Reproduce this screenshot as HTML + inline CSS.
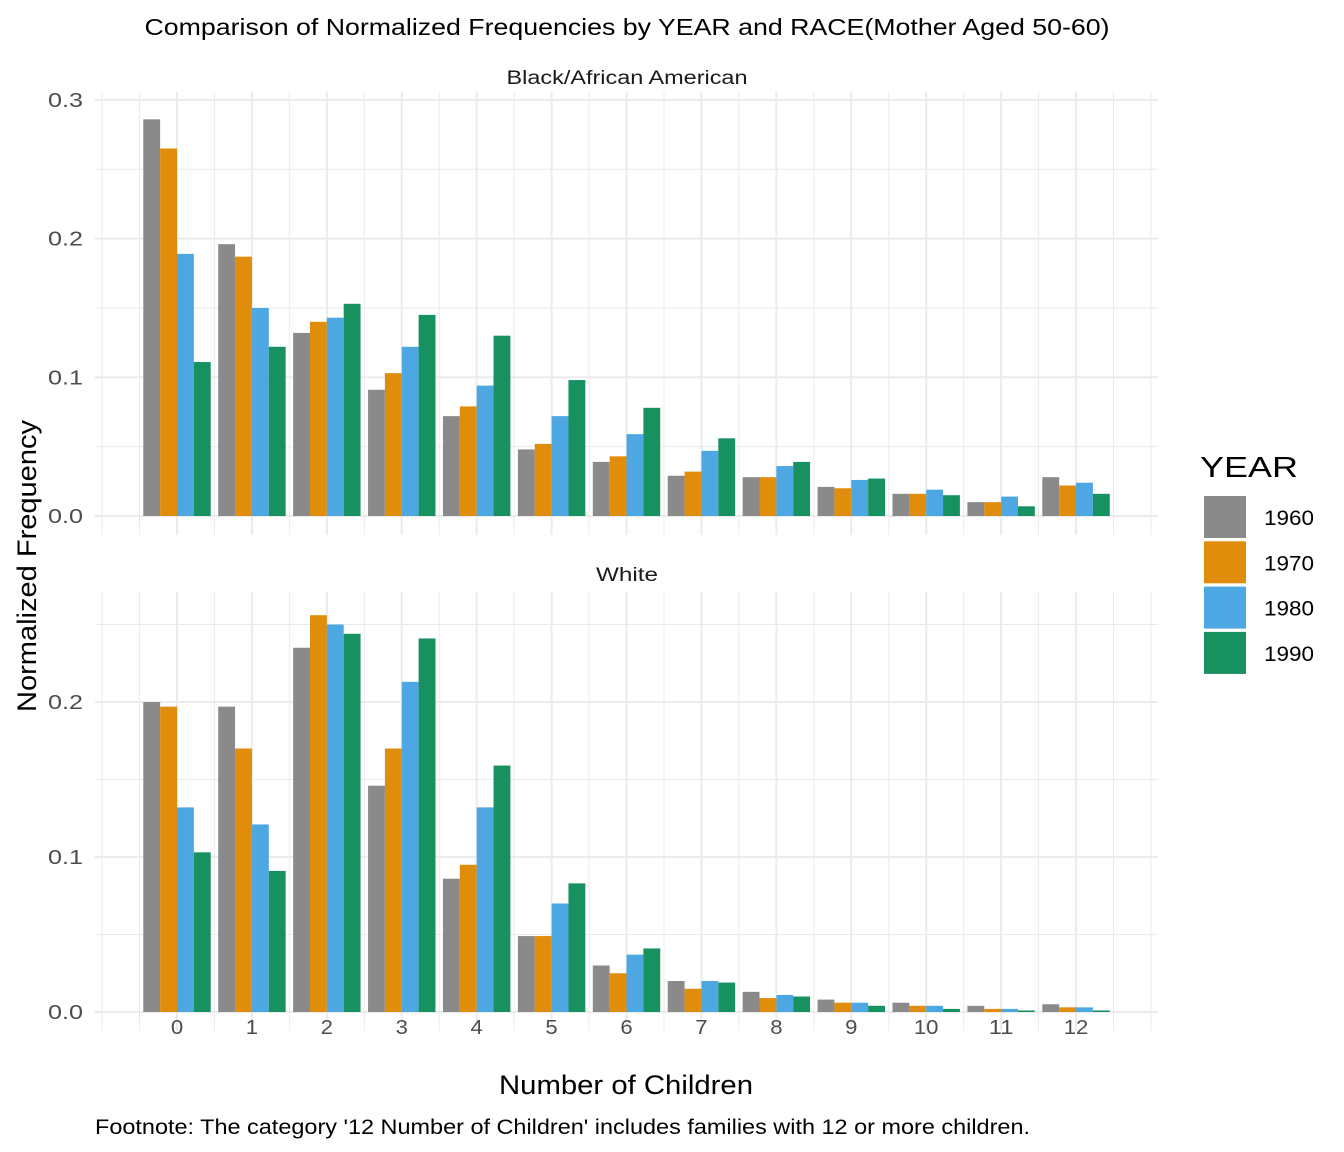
<!DOCTYPE html>
<html><head><meta charset="utf-8"><style>
html,body{margin:0;padding:0;background:#fff;}
svg{display:block;font-family:"Liberation Sans",Arial,sans-serif;}
</style></head><body>
<svg id="chart" width="1344" height="1152" viewBox="0 0 1344 1152">
<text x="627" y="35" text-anchor="middle" font-size="23" textLength="965" lengthAdjust="spacingAndGlyphs" fill="#000">Comparison of Normalized Frequencies by YEAR and RACE(Mother Aged 50-60)</text>
<text x="627" y="84" text-anchor="middle" font-size="19" textLength="241" lengthAdjust="spacingAndGlyphs" fill="#1a1a1a">Black/African American</text>
<text x="627" y="581" text-anchor="middle" font-size="19" textLength="62" lengthAdjust="spacingAndGlyphs" fill="#1a1a1a">White</text>
<g id="panels"></g>
<text x="626" y="1094" text-anchor="middle" font-size="27" textLength="254" lengthAdjust="spacingAndGlyphs" fill="#000">Number of Children</text>
<text transform="translate(36,566) rotate(-90)" text-anchor="middle" font-size="27" textLength="292" lengthAdjust="spacingAndGlyphs" fill="#000">Normalized Frequency</text>
<text x="95" y="1134" font-size="21" textLength="935" lengthAdjust="spacingAndGlyphs" fill="#000">Footnote: The category '12 Number of Children' includes families with 12 or more children.</text>
<text x="1200" y="477" font-size="29" textLength="98" lengthAdjust="spacingAndGlyphs" fill="#000">YEAR</text>
<g id="legend"></g>
</svg>
<script>
const categories=[0,1,2,3,4,5,6,7,8,9,10,11,12];
const years=["1960","1970","1980","1990"];
const colors=["#8a8a8a","#e08d0b","#4da7e3","#17915f"];
const black1960=[0.286,0.196,0.132,0.091,0.072,0.048,0.039,0.029,0.028,0.021,0.016,0.010,0.028];
const black1970=[0.265,0.187,0.140,0.103,0.079,0.052,0.043,0.032,0.028,0.020,0.016,0.010,0.022];
const black1980=[0.189,0.150,0.143,0.122,0.094,0.072,0.059,0.047,0.036,0.026,0.019,0.014,0.024];
const black1990=[0.111,0.122,0.153,0.145,0.130,0.098,0.078,0.056,0.039,0.027,0.015,0.007,0.016];
const white1960=[0.200,0.197,0.235,0.146,0.086,0.049,0.030,0.020,0.013,0.008,0.006,0.004,0.005];
const white1970=[0.197,0.170,0.256,0.170,0.095,0.049,0.025,0.015,0.009,0.006,0.004,0.002,0.003];
const white1980=[0.132,0.121,0.250,0.213,0.132,0.070,0.037,0.020,0.011,0.006,0.004,0.002,0.003];
const white1990=[0.103,0.091,0.244,0.241,0.159,0.083,0.041,0.019,0.010,0.004,0.002,0.001,0.001];
const blackTicks=[0,0.1,0.2,0.3];
const whiteTicks=[0,0.1,0.2];

const NS="http://www.w3.org/2000/svg";
const panelsG=document.getElementById('panels');
function mk(tag,attrs,parent){const e=document.createElementNS(NS,tag);for(const k in attrs)e.setAttribute(k,attrs[k]);parent.appendChild(e);return e;}
const step=74.92;
function xScale(c){return 177+c*step;}
const panels=[
 {name:'black',series:[black1960,black1970,black1980,black1990],ticks:blackTicks,y0:516,unit:1387,top:92,bottom:535,minor:[0.05,0.15,0.25]},
 {name:'white',series:[white1960,white1970,white1980,white1990],ticks:whiteTicks,y0:1012,unit:1550,top:592,bottom:1031,minor:[0.05,0.15,0.25]}
];
panels.forEach(p=>{
  const g=mk('g',{},panelsG);
  
  
  const y=v=>p.y0-v*p.unit;
  p.minor.forEach(v=>{const l=mk('line',{x1:95,x2:1158,y1:y(v),y2:y(v),stroke:'#ebebeb','stroke-width':1},g);
    });
  p.ticks.forEach(v=>{const l=mk('line',{x1:95,x2:1158,y1:y(v),y2:y(v),stroke:'#ebebeb','stroke-width':2},g);
    
    const t=mk('text',{x:83,y:y(v)+7,'text-anchor':'end','font-size':20,textLength:35,lengthAdjust:'spacingAndGlyphs',fill:'#4d4d4d'},g);t.textContent=v.toFixed(1);
    });
  for(let k=-2;k<=26;k++){
    const c=k/2;const major=(k%2===0)&&c>=0&&c<=12;
    const l=mk('line',{x1:xScale(c),x2:xScale(c),y1:p.top,y2:p.bottom,stroke:'#ebebeb','stroke-width':major?2:1},g);
    
  }
  const bw=step*0.9/4;
  p.series.forEach((arr,si)=>{
    categories.forEach((c,i)=>{
      const x=xScale(c)-step*0.45+si*bw;
      const r=mk('rect',{x:x,y:y(arr[i]),width:bw,height:p.y0-y(arr[i]),fill:colors[si]},g);
      
      
    });
  });
});
categories.forEach(c=>{
  const s=String(c);
  const t=mk('text',{x:xScale(c),y:1034,'text-anchor':'middle','font-size':20,textLength:s.length*12.3,lengthAdjust:'spacingAndGlyphs',fill:'#4d4d4d'},panelsG);t.textContent=s;
  
});
const lg=document.getElementById('legend');
years.forEach((yr,i)=>{
  const ky=496+i*45.3;
  const r=mk('rect',{x:1204,y:ky,width:42,height:42,fill:colors[i]},lg);
  
  const t=mk('text',{x:1264,y:ky+29,'font-size':21,textLength:50,lengthAdjust:'spacingAndGlyphs',fill:'#000'},lg);t.textContent=yr;
  
});
</script>
</body></html>
